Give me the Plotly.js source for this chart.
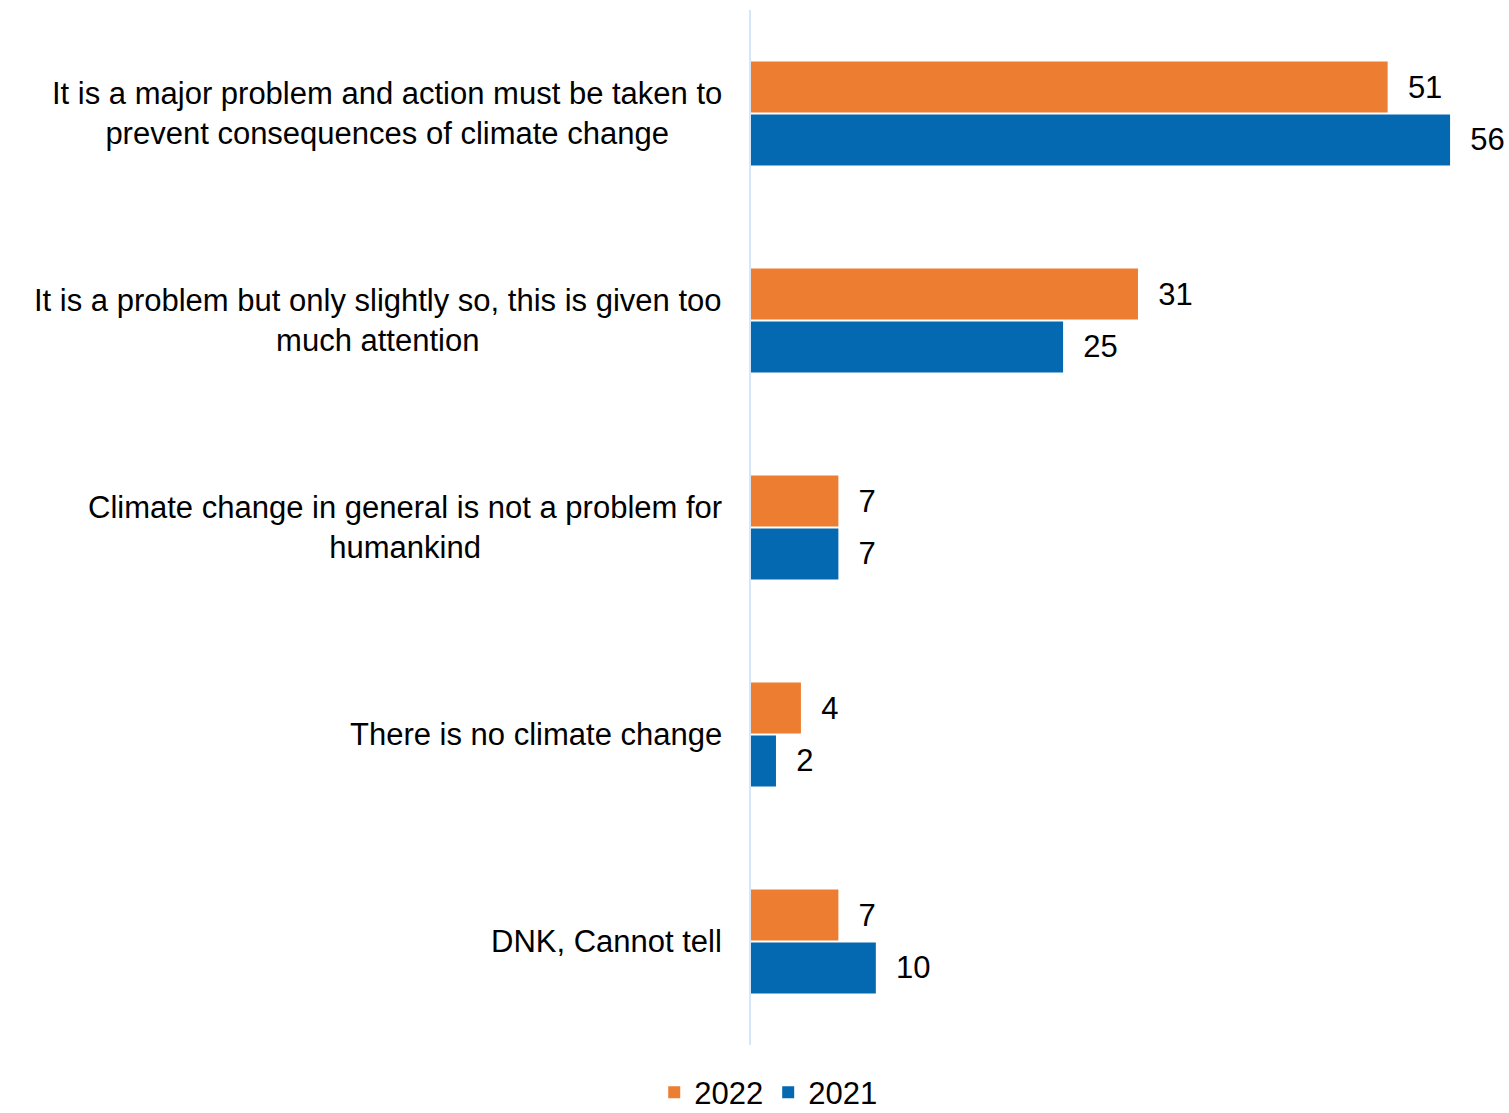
<!DOCTYPE html>
<html>
<head>
<meta charset="utf-8">
<script src="https://cdn.plot.ly/plotly-3.0.1.min.js"></script>
<style>html,body{margin:0;padding:0;background:#fff;}#chart{width:1509px;height:1113px;}</style>
</head>
<body>
<div id="chart"></div>
<script>
const categories = [
  "It is a major problem and action must be taken to<br>prevent consequences of climate change",
  "It is a problem but only slightly so, this is given too<br>much attention",
  "Climate change in general is not a problem for<br>humankind",
  "There is no climate change",
  "DNK, Cannot tell"
];
const values2022 = [51, 31, 7, 4, 7];
const values2021 = [56, 25, 7, 2, 10];
const seriesNames = ["2022", "2021"];

const font = "Liberation Sans, Arial, sans-serif";
const pad = "\u00a0\u00a0";
const fs = 31;

const traces = [
  {type: "bar", orientation: "h", name: seriesNames[0], y: categories, x: values2022,
   marker: {color: "#ED7D31"}, text: values2022.map(v => pad + v), textposition: "outside",
   cliponaxis: false, constraintext: "none", textfont: {family: font, size: fs, color: "#000"},
   hoverinfo: "x+name"},
  {type: "bar", orientation: "h", name: seriesNames[1], y: categories, x: values2021,
   marker: {color: "#0569B1"}, text: values2021.map(v => pad + v), textposition: "outside",
   cliponaxis: false, constraintext: "none", textfont: {family: font, size: fs, color: "#000"},
   hoverinfo: "x+name"}
];

const annotations = categories.map(c => ({
  xref: "paper", yref: "y", x: 0, y: c, xanchor: "right", yanchor: "middle",
  xshift: -27, text: c, align: "center", showarrow: false,
  font: {family: font, size: fs, color: "#000"}
}));

const layout = {
  width: 1509, height: 1113,
  margin: {l: 751, r: 9, t: 10, b: 68, autoexpand: false},
  paper_bgcolor: "#fff", plot_bgcolor: "#fff",
  barmode: "group", bargap: 0.488, bargroupgap: 0.04,
  font: {family: font, size: fs, color: "#000"},
  xaxis: {range: [0, 60], showgrid: false, zeroline: false, showticklabels: false, showline: false, fixedrange: true},
  yaxis: {type: "category", categoryorder: "array", categoryarray: categories, autorange: "reversed",
          showgrid: false, zeroline: false, showticklabels: false, showline: true,
          linecolor: "#D3E7FA", linewidth: 2, ticks: ""},
  showlegend: true,
  legend: {orientation: "h", x: 0.023, xanchor: "center", y: -0.046, yanchor: "middle",
           font: {family: font, size: fs, color: "#000"}, traceorder: "normal", itemwidth: 30},
  annotations: annotations
};

Plotly.newPlot("chart", traces, layout, {displayModeBar: false, staticPlot: true});
</script>
</body>
</html>
